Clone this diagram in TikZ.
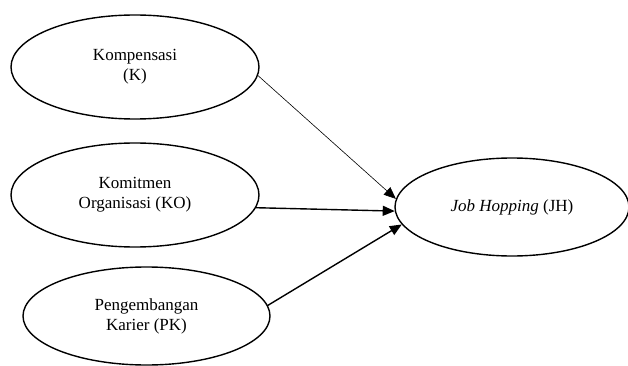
\documentclass[tikz,border=0pt]{standalone}
\usepackage{fontspec}
\setmainfont{Liberation Serif}
\usetikzlibrary{shapes.geometric,arrows.meta}
\begin{document}
\begin{tikzpicture}[x=1pt,y=-1pt,
  var/.style={ellipse,draw,line width=1.4pt,inner sep=0pt,align=center,
    minimum width=248pt,minimum height=104pt,font=\fontsize{17}{20}\selectfont},
  thinarr/.style={line width=0.6pt,-{Triangle[length=12pt,width=10pt]}},
  thickarr/.style={line width=1.4pt,-{Triangle[length=12pt,width=10pt]}}]
\useasboundingbox (0,0) rectangle (628,366);
\node[var] (K) at (135,67) {Kompensasi\\(K)};
\node[var] (KO) at (135,195) {Komitmen\\Organisasi (KO)};
\node[var,minimum width=247pt,minimum height=98pt] (PK) at (146.5,316) {Pengembangan\\Karier (PK)};
\node[var,minimum width=234pt,minimum height=98pt] (JH) at (512,207) {\textit{Job Hopping} (JH)};
\draw[thinarr] (K.-4) -- (JH.176);
\draw[thickarr] (KO.-6) -- (JH.182);
\draw[thickarr] (PK.5) -- (JH.189);
\end{tikzpicture}
\end{document}
